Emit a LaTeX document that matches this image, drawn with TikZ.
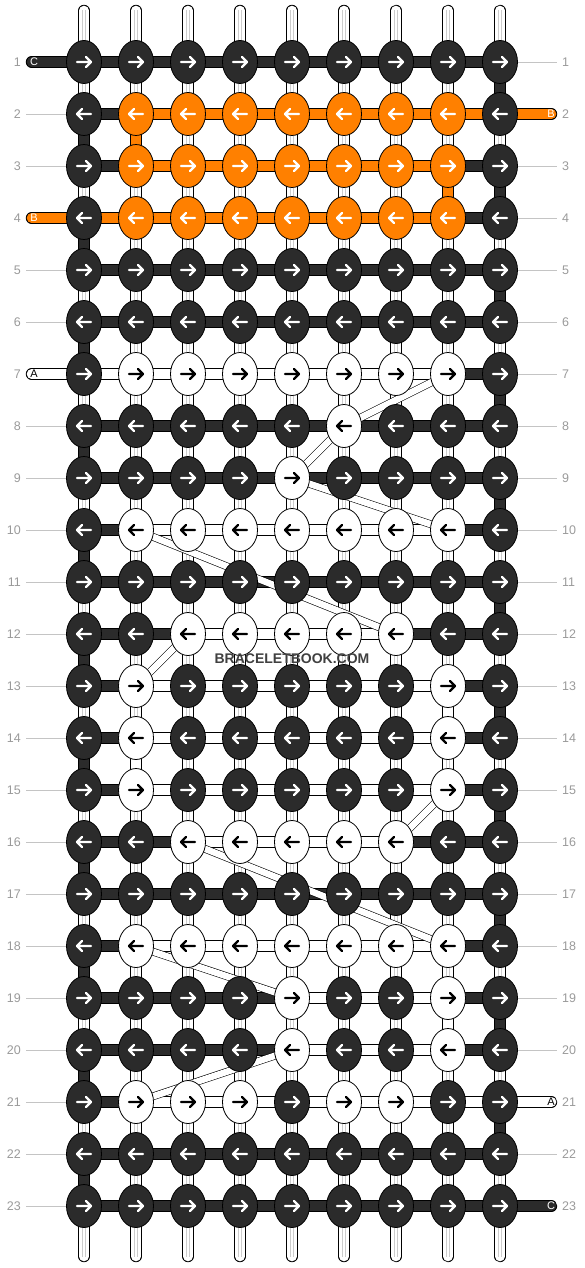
\documentclass[tikz,border=0pt]{standalone}
\usepackage{fontspec}
\setmainfont{Liberation Sans}
\usetikzlibrary{shapes.geometric, backgrounds}

\definecolor{threaddark}{HTML}{2B2B2B}
\definecolor{threadorange}{HTML}{FF8000}
\definecolor{rowgray}{HTML}{9A9A9A}
\definecolor{guidegray}{HTML}{C4C4C4}

\tikzset{
strand/.style={line width=0.9pt, double=#1, double distance=9.6pt, line cap=round}, % one thread with a black edge
thread d/.style={strand=threaddark},
thread o/.style={strand=threadorange},
thread w/.style={strand=white},
base line/.style={black!20, line width=0.4pt, double=white, double distance=2.4pt}, % grey lines inside a base thread
carry/.style={line width=0.6pt, double=white, double distance=6.5pt}, % thread carried behind the knots
knot/.style={ellipse, draw=black, line width=0.8pt, minimum width=35pt, minimum height=43pt, inner sep=0pt, fill=#1},
knot d/.style={knot=threaddark},
knot o/.style={knot=threadorange},
knot w/.style={knot=white},
knot arrow/.style={line width=2.4pt, line cap=round, line join=round, draw=#1},
row number/.style={text=rowgray, font=\fontsize{12.5}{14}\selectfont, inner sep=0pt},
guide/.style={guidegray, line width=0.8pt},
end tag/.style={font=\fontsize{11}{12}\selectfont, inner sep=0pt},
}

\begin{document}
\begin{tikzpicture}[x=1pt, y=-1pt]
\useasboundingbox (0,0) rectangle (584,1268);

% knots, row by row (odd rows point right)
\foreach \r/\row in {
 1/{d,d,d,d,d,d,d,d,d},  2/{d,o,o,o,o,o,o,o,d},  3/{d,o,o,o,o,o,o,o,d},
 4/{d,o,o,o,o,o,o,o,d},  5/{d,d,d,d,d,d,d,d,d},  6/{d,d,d,d,d,d,d,d,d},
 7/{d,w,w,w,w,w,w,w,d},  8/{d,d,d,d,d,w,d,d,d},  9/{d,d,d,d,w,d,d,d,d},
 10/{d,w,w,w,w,w,w,w,d}, 11/{d,d,d,d,d,d,d,d,d}, 12/{d,d,w,w,w,w,w,d,d},
 13/{d,w,d,d,d,d,d,w,d}, 14/{d,w,d,d,d,d,d,w,d}, 15/{d,w,d,d,d,d,d,w,d},
 16/{d,d,w,w,w,w,w,d,d}, 17/{d,d,d,d,d,d,d,d,d}, 18/{d,w,w,w,w,w,w,w,d},
 19/{d,d,d,d,w,d,d,w,d}, 20/{d,d,d,d,w,d,d,w,d}, 21/{d,w,w,w,d,w,w,d,d},
 22/{d,d,d,d,d,d,d,d,d}, 23/{d,d,d,d,d,d,d,d,d}}{
  \pgfmathsetmacro\s{isodd(\r) ? 1 : -1}
  \foreach \k [count=\c] in \row {
    \node[knot \k] (k-\r-\c) at ({32+52*\c},{10+52*\r}) {};
    \if w\k \def\ac{black}\else \def\ac{white}\fi
    \draw[knot arrow=\ac] (k-\r-\c.center) ++({-7*(\s)},0) -- ++({14*(\s)},0)
      ++({-5*(\s)},-5) -- ++({5*(\s)},5) -- ++({-5*(\s)},5);
  }
}

\begin{pgfonlayer}{background}
% base threads
\foreach \c in {1,...,9} {
  \coordinate (top-\c) at ({32+52*\c},10.5);
  \coordinate (bot-\c) at ({32+52*\c},1256.5);
  \draw[thread w] (top-\c) -- (k-1-\c.center);
  \draw[thread w] (k-23-\c.center) -- (bot-\c);
  \draw[base line] (top-\c) -- (k-1-\c.center);
  \draw[base line] (k-23-\c.center) -- (bot-\c);
  \foreach \r in {1,...,22} {
    \pgfmathtruncatemacro\n{\r+1}
    \draw[thread w] (k-\r-\c.center) -- (k-\n-\c.center);
    \draw[base line] (k-\r-\c.center) -- (k-\n-\c.center);
  }
}
% turns of the working threads
\foreach \r in {2,4,...,22} {
  \pgfmathtruncatemacro\n{\r+1}
  \draw[thread d] (k-\r-1.center) -- (k-\n-1.center);
}
\foreach \r in {1,3,...,21} {
  \pgfmathtruncatemacro\n{\r+1}
  \draw[thread d] (k-\r-9.center) -- (k-\n-9.center);
}
\foreach \r/\c/\h in {2/2/o, 3/8/o, 13/8/w, 14/2/w, 19/8/w} {
  \pgfmathtruncatemacro\n{\r+1}
  \draw[thread \h] (k-\r-\c.center) -- (k-\n-\c.center);
}
% threads between the knots of a row
\foreach \r/\row in {
 1/{d,d,d,d,d,d,d,d},  2/{d,o,o,o,o,o,o,o},  3/{d,o,o,o,o,o,o,d},
 4/{o,o,o,o,o,o,o,d},  5/{d,d,d,d,d,d,d,d},  6/{d,d,d,d,d,d,d,d},
 7/{w,w,w,w,w,w,w,d},  8/{d,d,d,d,d,d,d,d},  9/{d,d,d,d,d,d,d,d},
 10/{d,w,w,w,w,w,w,d}, 11/{d,d,d,d,d,d,d,d}, 12/{d,d,w,w,w,w,d,d},
 13/{d,w,w,w,w,w,w,d}, 14/{d,w,w,w,w,w,w,d}, 15/{d,w,w,w,w,w,w,d},
 16/{d,d,w,w,w,w,d,d}, 17/{d,d,d,d,d,d,d,d}, 18/{d,w,w,w,w,w,w,d},
 19/{d,d,d,d,w,w,w,d}, 20/{d,d,d,d,w,w,w,d}, 21/{d,w,w,w,w,w,w,w},
 22/{d,d,d,d,d,d,d,d}, 23/{d,d,d,d,d,d,d,d}}{
  \foreach \h [count=\c] in \row {
    \pgfmathtruncatemacro\n{\c+1}
    \draw[thread \h] (k-\r-\c.center) -- (k-\r-\n.center);
  }
}
% loose ends
\foreach \r/\h/\lbl/\tc in {1/d/C/white, 4/o/B/white, 7/w/A/black} {
  \coordinate (end-l-\r) at (31.5,{10+52*\r});
  \draw[thread \h] (end-l-\r) -- (k-\r-1.center);
  \node[end tag, text=\tc] at (34,{10+52*\r}) {\lbl};
}
\foreach \r/\h/\lbl/\tc in {2/o/B/white, 21/w/A/black, 23/d/C/white} {
  \coordinate (end-r-\r) at (551.5,{10+52*\r});
  \draw[thread \h] (k-\r-9.center) -- (end-r-\r);
  \node[end tag, text=\tc] at (551,{10+52*\r}) {\lbl};
}
% carried threads
\foreach \a/\b in {7-8/8-6, 8-6/9-5, 9-5/10-8, 10-2/12-7, 12-3/13-2,
                   15-8/16-7, 16-3/18-8, 18-2/19-5, 20-5/21-2}
  \draw[carry] (k-\a.center) -- (k-\b.center);
\end{pgfonlayer}

% row numbers
\foreach \r in {1,...,23} {
  \node[row number, anchor=east] (num-l-\r) at (21,{10+52*\r}) {\r};
  \node[row number, anchor=west] (num-r-\r) at (562,{10+52*\r}) {\r};
}
\foreach \r in {2,3,5,6,8,9,...,23}
  \draw[guide] ([xshift=5pt]num-l-\r.east) -- (k-\r-1);
\foreach \r in {1,3,4,...,20,22}
  \draw[guide] (k-\r-9) -- ([xshift=-5pt]num-r-\r.west);

\node[font=\bfseries\fontsize{14}{16}\selectfont, text=black!75] (mark) at (292,659) {BRACELETBOOK.COM};
\end{tikzpicture}
\end{document}
